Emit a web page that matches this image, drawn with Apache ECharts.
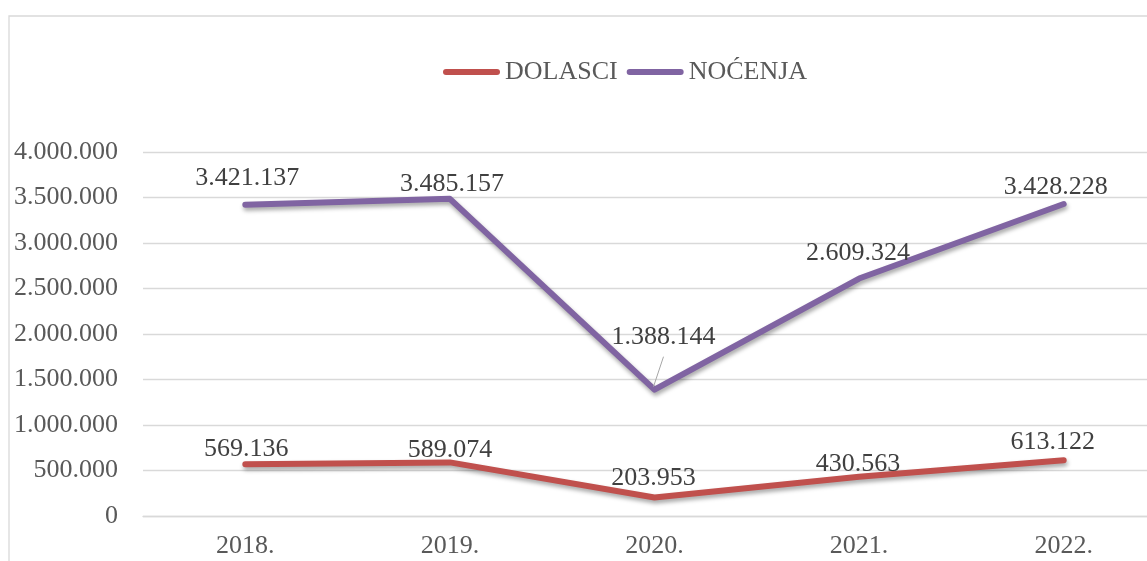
<!DOCTYPE html>
<html>
<head>
    <meta charset="utf-8">
    <title>Dolasci i noćenja</title>
    <style>
        html, body { margin: 0; padding: 0; background: #fff; }
        #main { width: 1147px; height: 561px; }
    </style>
</head>
<body>
    <div id="main"></div>
    <script src="https://cdn.jsdelivr.net/npm/echarts@6/dist/echarts.min.js"></script>
    <script>
        // podaci
        var godine = ['2018.', '2019.', '2020.', '2021.', '2022.'];
        var dolasci = [569136, 589074, 203953, 430563, 613122];
        var nocenja = [3421137, 3485157, 1388144, 2609324, 3428228];

        // pomak oznaka (px) - samo stil
        var pomakDolasci = [[1, -2], [0, 1], [-1, -6], [-1, 1], [-11, -5]];
        var pomakNocenja = [[2, -13], [2, -1], [9, -39], [-1, -12], [-8, -3]];

        var serif = 'Liberation Serif';

        function fmt(v) {
            return String(v).replace(/\B(?=(\d{3})+(?!\d))/g, '.');
        }

        function napravi(vals, pomak) {
            var out = [];
            for (var i = 0; i < vals.length; i++) {
                out.push({ value: vals[i], label: { offset: pomak[i] } });
            }
            return out;
        }

        var myChart = echarts.init(document.getElementById('main'));

        var sjena = {
            shadowColor: 'rgba(0,0,0,0.35)',
            shadowBlur: 4,
            shadowOffsetX: 1,
            shadowOffsetY: 3
        };

        var oznaka = {
            show: true,
            position: 'top',
            distance: 0,
            color: '#404040',
            fontFamily: serif,
            fontSize: 26,
            formatter: function(p) { return fmt(p.value); }
        };

        var okvir = {
            type: 'rect',
            shape: { x: 9, y: 16, width: 1400, height: 800 },
            style: { fill: 'none', stroke: '#d9d9d9', lineWidth: 1.3 },
            z: -1
        };

        var option = {
            animation: false,
            graphic: [okvir],
            legend: {
                left: 443,
                top: 59,
                padding: 0,
                itemWidth: 57,
                itemHeight: 6,
                itemGap: 9,
                icon: 'path://M3,0 L54,0 A3,3 0 0 1 54,6 L3,6 A3,3 0 0 1 3,0 Z',
                textStyle: { color: '#595959', fontFamily: serif, fontSize: 26, lineHeight: 26 },
                data: ['DOLASCI', 'NOĆENJA']
            },
            grid: { left: 143, width: 1023, top: 152, height: 364, outerBoundsMode: 'none', containLabel: false },
            xAxis: {
                type: 'category',
                data: godine,
                boundaryGap: true,
                axisLine: { show: true, lineStyle: { color: '#d9d9d9', width: 1.3 } },
                axisTick: { show: false },
                axisLabel: { color: '#595959', fontFamily: serif, fontSize: 26, margin: 17 }
            },
            yAxis: {
                type: 'value',
                min: 0,
                max: 4000000,
                interval: 500000,
                axisLine: { show: false },
                axisTick: { show: false },
                splitLine: { lineStyle: { color: '#d9d9d9', width: 1.3 } },
                axisLabel: {
                    color: '#595959', fontFamily: serif, fontSize: 26, margin: 25,
                    formatter: function(v) { return fmt(v); }
                }
            },
            series: [{
                name: 'DOLASCI',
                type: 'line',
                data: napravi(dolasci, pomakDolasci),
                color: '#C0504D',
                symbol: 'circle',
                symbolSize: 1,
                lineStyle: Object.assign({ width: 6, color: '#C0504D', cap: 'round', join: 'round' }, sjena),
                label: oznaka
            }, {
                name: 'NOĆENJA',
                type: 'line',
                data: napravi(nocenja, pomakNocenja),
                color: '#8064A2',
                symbol: 'circle',
                symbolSize: 1,
                lineStyle: Object.assign({ width: 6, color: '#8064A2', cap: 'round', join: 'round' }, sjena),
                label: oznaka
            }]
        };

        myChart.setOption(option);

        // linija vodilica za 2020. (noćenja)
        var t = myChart.convertToPixel({ seriesIndex: 1 }, [2, nocenja[2]]);
        myChart.setOption({
            graphic: [okvir, {
                type: 'line',
                shape: { x1: t[0] - 1, y1: t[1] - 3, x2: t[0] + 9, y2: t[1] - 33 },
                style: { stroke: '#a6a6a6', lineWidth: 1 },
                z: 10
            }]
        });
    </script>
</body>
</html>
